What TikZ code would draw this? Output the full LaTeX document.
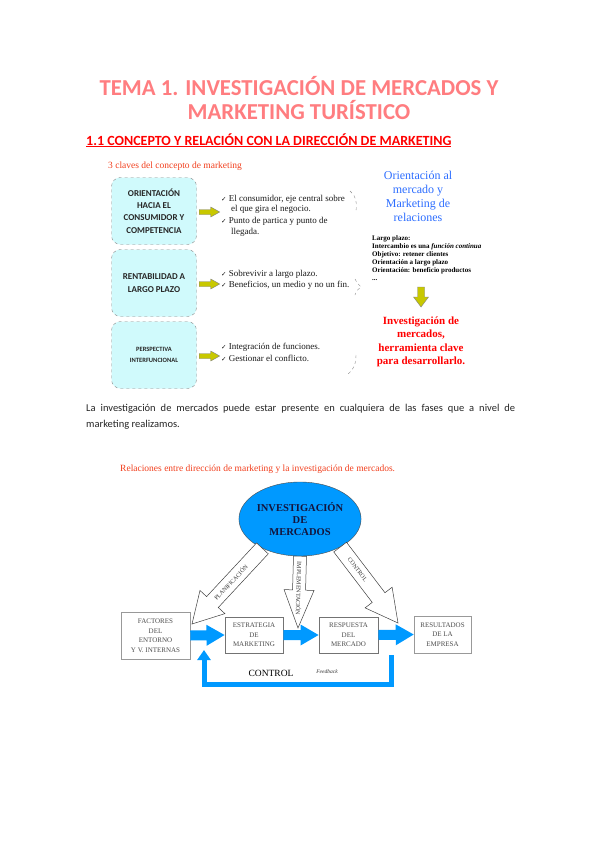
\documentclass[tikz,border=0pt]{standalone}
\usepackage{fontspec}
\setmainfont{Liberation Serif}
\setsansfont{Carlito}
\newfontfamily\symfont{DejaVu Sans}
\usetikzlibrary{arrows.meta,positioning,calc,shapes.geometric}
\definecolor{titlepink}{RGB}{255,125,128}
\definecolor{headred}{RGB}{255,0,0}
\definecolor{clavered}{RGB}{242,62,28}
\definecolor{keycyan}{RGB}{208,250,252}
\definecolor{arrowolive}{RGB}{200,200,0}
\definecolor{relblue}{RGB}{45,110,255}
\definecolor{invblue}{RGB}{0,153,255}
\definecolor{invtext}{RGB}{20,20,60}
\newcommand{\ck}{{\symfont\fontsize{6.5}{6.5}\selectfont\char"2713}\ }
% block arrow between two points: [style]{from}{to}{shaft half}{head half}{head length}
\newcommand{\blockarrow}[6][]{%
  \coordinate (ba-h) at ($(#3)!#6!(#2)$);
  \draw[#1] ($(#2)!#4!90:(#3)$) -- ($(ba-h)!#4!90:(#3)$) -- ($(ba-h)!#5!90:(#3)$) -- (#3)
    -- ($(ba-h)!#5!-90:(#3)$) -- ($(ba-h)!#4!-90:(#3)$) -- ($(#2)!#4!-90:(#3)$) -- cycle;
}

\begin{document}
\begin{tikzpicture}[x=1pt, y=-1pt,
  keybox/.style={draw=black!45, dashed, rounded corners=9pt, fill=keycyan,
                 minimum width=85pt, minimum height=67pt, align=center,
                 font=\sffamily\bfseries\fontsize{9}{12.3}\selectfont, text=black!85},
  bullets/.style={anchor=north west, inner sep=0pt, align=left,
                  font=\fontsize{9}{10.5}\selectfont, text=black!90},
  yarrow/.style={fill=arrowolive, draw=black!50, thin},
  bluearr/.style={fill=invblue, draw=none},
  hollow/.style={fill=white, draw=black!75, line width=0.5pt},
  flowbox/.style={draw=black!55, line width=0.9pt, align=center, inner sep=1pt,
                  font=\fontsize{7}{9.5}\selectfont, text=black!70},
  flowlabel/.style={font=\fontsize{6}{7}\selectfont, text=black!80, inner sep=0pt},
  bracearc/.style={draw=black!45, dashed, thin},
]
  \fill[white] (0,0) rectangle (599,848);
  \useasboundingbox (0,0) rectangle (599,848);

  % headings
  \node[font=\sffamily\bfseries\fontsize{22.8}{24}\selectfont, text=titlepink, align=center]
    (title) at (299,98) {TEMA 1. INVESTIGACIÓN DE MERCADOS Y\\MARKETING TURÍSTICO};
  \node[anchor=base west, inner sep=0pt, font=\sffamily\bfseries\fontsize{14}{15}\selectfont, text=headred]
    (sec) at (86,145) {\underline{1.1 CONCEPTO Y RELACIÓN CON LA DIRECCIÓN DE MARKETING}};
  \node[anchor=base west, inner sep=0pt, font=\fontsize{9.5}{11}\selectfont, text=clavered]
    (claves) at (108,168) {3 claves del concepto de marketing};

  % three keys
  \node[keybox] (k1) at (154,211) {ORIENTACIÓN\\HACIA EL\\CONSUMIDOR Y\\COMPETENCIA};
  \node[keybox] (k2) at (154,283) {RENTABILIDAD A\\LARGO PLAZO};
  \node[keybox, font=\sffamily\bfseries\fontsize{6.5}{11}\selectfont] (k3) at (154,355)
    {PERSPECTIVA\\INTERFUNCIONAL};

  \node[bullets] (b1) at (221,195) {\ck El consumidor, eje central sobre\\
    \hspace*{10pt}el que gira el negocio.\\[1.5pt] \ck Punto de partica y punto de\\
    \hspace*{10pt}llegada.};
  \node[bullets] (b2) at (221,270) {\ck Sobrevivir a largo plazo.\\[1pt]
    \ck Beneficios, un medio y no un fin.};
  \node[bullets] (b3) at (221,343) {\ck Integración de funciones.\\[1pt]
    \ck Gestionar el conflicto.};

  \foreach \k in {1,2,3} {
    \coordinate (ys\k) at ([xshift=2.5pt, yshift=-1pt]k\k.east);
    \coordinate (ye\k) at ([xshift=23pt, yshift=-1pt]k\k.east);
    \blockarrow[yarrow]{ys\k}{ye\k}{2.5pt}{5pt}{9pt}
  }

  \draw[bracearc] (350,191) .. controls (356,195) and (357,203) .. (356,211);
  \draw[bracearc] (355,279) .. controls (357,283) and (359,285) .. (361,287)
                  .. controls (358,289) and (356,291) .. (355,295);
  \draw[bracearc] (356,355) .. controls (356,365) and (353,370) .. (348,374);

  % market orientation
  \node[font=\fontsize{12}{14}\selectfont, text=relblue, align=center]
    (rel) at (418,196) {Orientación al\\mercado y\\Marketing de\\relaciones};
  \node[anchor=north west, inner sep=0pt, align=left, font=\bfseries\fontsize{7}{8}\selectfont]
    (lp) at (372,235) {Largo plazo:\\Intercambio es una \textit{función continua}\\
    Objetivo: retener clientes\\Orientación a largo plazo\\Orientación: beneficio productos\\...};
  \node[font=\bfseries\fontsize{11}{13.5}\selectfont, text=headred, align=center]
    (invtool) at (421,342) {Investigación de\\mercados,\\herramienta clave\\para desarrollarlo.};
  \coordinate (ds) at (421,287);
  \coordinate (de) at (421,307);
  \blockarrow[yarrow]{ds}{de}{3.5pt}{7.5pt}{10pt}

  % paragraph
  \node[anchor=north west, inner sep=0pt, text width=429pt, align=justify,
        font=\sffamily\fontsize{10.5}{16}\selectfont, text=black!85] (para) at (86,404)
    {La investigación de mercados puede estar presente en cualquiera de las fases que a nivel de\linebreak
     marketing realizamos.};

  % relations diagram
  \node[anchor=base west, inner sep=0pt, font=\fontsize{9.5}{11}\selectfont, text=clavered]
    (relcap) at (120,471) {Relaciones entre dirección de marketing y la investigación de mercados.};

  \node[ellipse, draw=black!70, fill=invblue, minimum width=105pt, minimum height=74pt,
        align=center, inner sep=0pt, font=\bfseries\fontsize{10.5}{12}\selectfont, text=invtext]
    (inv) at (300,519) {INVESTIGACIÓN\\DE\\MERCADOS};

  \node[flowbox, draw=black!40, line width=0.6pt, minimum width=69pt, minimum height=47pt]
    (fac) at (155.5,635.5) {FACTORES\\DEL\\ENTORNO\\Y V. INTERNAS};
  \node[flowbox, minimum width=58pt, minimum height=36pt] (est) at (254,635) {ESTRATEGIA\\DE\\MARKETING};
  \node[flowbox, minimum width=59pt, minimum height=36pt] (resp) at (348.5,635) {RESPUESTA\\DEL\\MERCADO};
  \node[flowbox, draw=black!40, line width=0.6pt, minimum width=57pt, minimum height=37pt]
    (res) at (442.5,634.5) {RESULTADOS\\DE LA\\EMPRESA};

  \blockarrow[bluearr]{fac.east}{est.west}{5pt}{10.5pt}{18pt}
  \blockarrow[bluearr]{est.east}{resp.west}{5pt}{10.5pt}{18pt}
  \blockarrow[bluearr]{resp.east}{res.west}{5pt}{10.5pt}{18pt}

  % research arrows
  \coordinate (planTip) at (192,624);
  \coordinate (implTip) at (298,628);
  \coordinate (ctrlTip) at (398,623);
  \blockarrow[hollow]{inv.218}{planTip}{8pt}{17pt}{30pt}
  \path (inv.218) -- (planTip) node[flowlabel, pos=0.45, sloped] {PLANIFICACIÓN};
  \blockarrow[hollow]{inv.270}{implTip}{6.5pt}{15pt}{38pt}
  \path (inv.270) -- (implTip) node[flowlabel, pos=0.45, sloped, allow upside down] {IMPLEMENTACIÓN};
  \blockarrow[hollow]{inv.325}{ctrlTip}{8pt}{17pt}{32pt}
  \path (inv.325) -- (ctrlTip) node[flowlabel, pos=0.3, sloped] {CONTROL};

  % feedback loop
  \coordinate (fbStart) at (391,655);
  \coordinate (fbEnd) at (204,650);
  \draw[invblue, line width=5pt, -{Triangle[width=13pt, length=10pt]}]
    (fbStart) -- ++(0,29) -| (fbEnd);
  \node[font=\fontsize{9.5}{11}\selectfont] (ctrl) at (271,673) {CONTROL};
  \node[font=\itshape\fontsize{5.5}{6}\selectfont, text=black!80] (fb) at (327,672) {Feedback};
\end{tikzpicture}
\end{document}
